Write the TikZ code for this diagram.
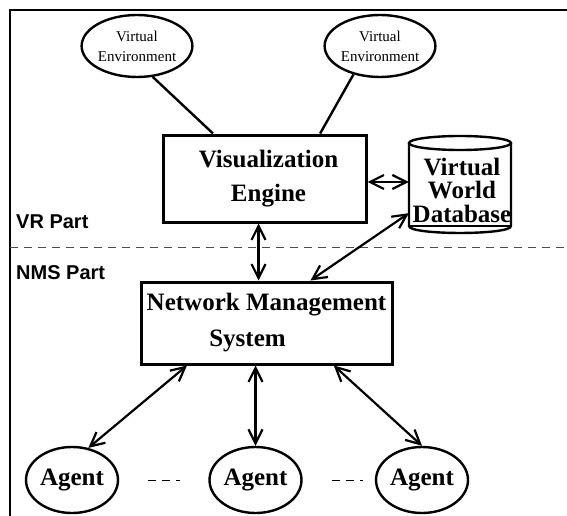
\documentclass[tikz,border=0pt]{standalone}
\usepackage{fontspec}
\setmainfont{Liberation Serif}
\newfontfamily\labfont{Liberation Sans}
\usetikzlibrary{arrows.meta,calc,shapes.geometric}
\begin{document}
\begin{tikzpicture}[x=1pt,y=-1pt,
 boxnode/.style={draw,line width=3pt,rectangle,inner sep=0pt,align=center,font=\fontsize{25}{34}\selectfont\bfseries},
 envnode/.style={draw,line width=2.4pt,ellipse,minimum width=92pt,minimum height=62pt,inner sep=0pt,align=center,font=\fontsize{15}{20}\selectfont},
 agentnode/.style={draw,line width=2.4pt,ellipse,minimum width=92pt,minimum height=66pt,inner sep=0pt,font=\fontsize{25}{30}\selectfont\bfseries},
 link/.style={line width=2.4pt},
 biarrow/.style={line width=2.2pt,{Straight Barb[length=14pt,width=14pt]}-{Straight Barb[length=14pt,width=14pt]}},
 partlabel/.style={anchor=west,inner sep=0pt,font=\labfont\fontsize{20}{24}\selectfont\bfseries},
 dbtextnode/.style={inner sep=0pt,align=center,font=\fontsize{25}{23.5}\selectfont\bfseries},
 shortdash/.style={line width=1pt,dash pattern=on 8pt off 6pt},
]
\useasboundingbox (0,0) rectangle (567,516);
% frame
\draw[line width=2.2pt] (10,516) -- (10,10) -- (567,10);
% separator
\draw[line width=1pt,black!70,dash pattern=on 8pt off 6pt] (10,247) -- (567,247);
% nodes
\node[envnode] (ve1) at (137,46) {Virtual\\Environment};
\node[envnode] (ve2) at (380,46) {Virtual\\Environment};
\node[boxnode,minimum width=203pt,minimum height=87pt] (vis) at (264.5,178.5) {\hspace*{8pt}Visualization\\\hspace*{8pt}Engine};
\node[minimum width=102pt,minimum height=92pt,inner sep=0pt] (db) at (460,182) {};
\draw[line width=2.4pt] (460,143) ellipse [x radius=51pt, y radius=7pt];
\draw[line width=2.4pt] (409,143) -- (409,226) .. controls (409,235.3) and (511,235.3) .. (511,226) -- (511,143);
\draw[line width=1.8pt] (409,226) -- (511,226);
\node[dbtextnode] (dbtext) at (462,190) {Virtual\\World\\Database};
\node[boxnode,minimum width=251pt,minimum height=82pt,font=\fontsize{25}{36}\selectfont\bfseries] (nms) at (266.5,323) {Network Management\\\hspace*{-38pt}System};
\node[agentnode] (a1) at (72,480) {\raisebox{5pt}{Agent}};
\node[agentnode] (a2) at (255.5,480) {\raisebox{5pt}{Agent}};
\node[agentnode] (a3) at (422,480) {\raisebox{5pt}{Agent}};
\node[partlabel] (vr) at (16,222) {VR Part};
\node[partlabel] (nmsp) at (16,273) {NMS Part};
% ellipsis dashes
\draw[shortdash] (148,480) -- (180,480);
\draw[shortdash] (332,480) -- (363,480);
% connectors
\draw[link] (ve1.-63) -- ($(vis.north west)!0.25!(vis.north east)$);
\draw[link] (ve2.-133) -- ($(vis.north west)!0.77!(vis.north east)$);
\draw[biarrow] (vis.east |- db.west) -- (db.west);
\draw[biarrow] ([xshift=-6pt]vis.south) -- ([xshift=-6pt]vis.south |- nms.north);
\draw[biarrow] ([yshift=15pt]db.south west) -- ($(nms.north west)!0.673!(nms.north east)$);
\draw[biarrow] ($(nms.south west)!0.187!(nms.south east)$) -- (a1.63);
\draw[biarrow] (nms.south -| a2.north) -- (a2.north);
\draw[biarrow] ($(nms.south west)!0.765!(nms.south east)$) -- (a3.north);
\end{tikzpicture}
\end{document}
